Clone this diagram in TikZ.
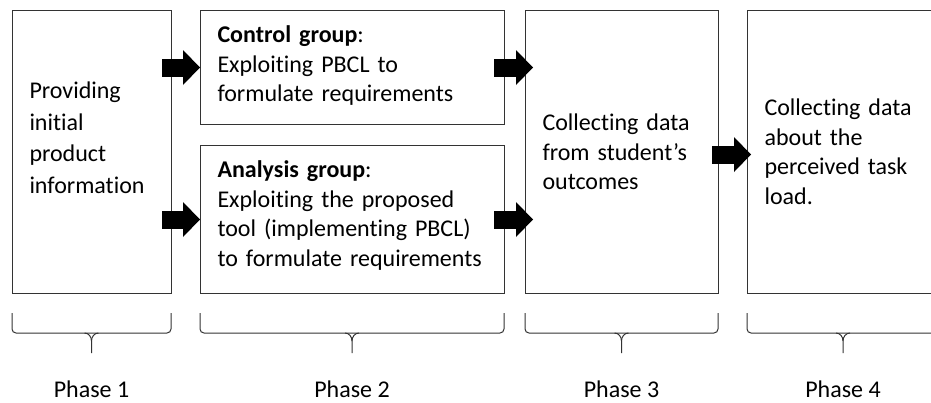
\documentclass[tikz,border=0pt]{standalone}
\usepackage{fontspec}
\setmainfont{Carlito}[Ligatures={NoCommon}]
\usepackage{tikz}
\usetikzlibrary{arrows.meta}

\begin{document}
\begin{tikzpicture}[x=1pt,y=-1pt,
    box/.style={draw=black!80,line width=1pt,inner xsep=17pt,inner ysep=0pt,align=left,
                font=\fontsize{24}{29.5}\selectfont,text height=18pt,anchor=north west},
    bigarrow/.style={line width=18pt,-{Triangle[length=17pt,width=35pt,line width=0pt]}},
    brace/.style={draw=black!80,line width=1pt}]
  \useasboundingbox (0,0) rectangle (931,402);
  \clip (0,0) rectangle (931,402);

  \node[box,text width=125pt,minimum height=283pt,text depth=125pt,
        font=\fontsize{24}{31.7}\selectfont] (info) at (12,10)
    {Providing\\initial\\product\\information};
  \node[box,text width=270pt,minimum height=114pt,text depth=68pt] (ctrl) at (200,10)
    {\textbf{Control group}:\\Exploiting PBCL to\\formulate requirements};
  \node[box,text width=270pt,minimum height=148pt,text depth=102pt] (anal) at (200,145)
    {\textbf{Analysis group}:\\Exploiting the proposed\\tool (implementing PBCL)\\to formulate requirements};
  \node[box,text width=159pt,minimum height=283pt,text depth=61pt] (outc) at (525,10)
    {Collecting data\\from student’s\\outcomes};
  \node[box,text width=158pt,minimum height=283pt,text depth=91pt] (load) at (747,10)
    {Collecting data\\about the\\perceived task\\load.};

  % block arrows between the phases
  \draw[bigarrow] ([xshift=-10pt]info.east |- ctrl.west) -- (ctrl.west);
  \draw[bigarrow] ([xshift=-10pt]info.east |- anal.west) -- (anal.west);
  \draw[bigarrow] ([xshift=-11pt]ctrl.east) -- ([xshift=8pt]ctrl.east -| outc.west);
  \draw[bigarrow] ([xshift=-11pt]anal.east) -- ([xshift=8pt]anal.east -| outc.west);
  \draw[bigarrow] ([xshift=-7pt,yshift=-2.5pt]outc.east) -- ([xshift=4pt,yshift=-2.5pt]outc.east -| load.west);

  % braces and phase labels
  \foreach \l/\r/\n in {12/171/1,200/504/2,525/718/3,747/939/4}{
    \pgfmathsetmacro{\m}{(\l+\r)/2}
    \draw[brace,rounded corners=4pt] (\l,313) -- (\l,333) -- (\r,333) -- (\r,313);
    \draw[brace] (\m-7,333) to[out=0,in=90] (\m,341) -- (\m,353);
    \draw[brace] (\m+7,333) to[out=180,in=90] (\m,341);
    \node[anchor=base,font=\fontsize{24}{29.5}\selectfont] (phase\n) at (\m,397) {Phase \n};
  }
\end{tikzpicture}
\end{document}
